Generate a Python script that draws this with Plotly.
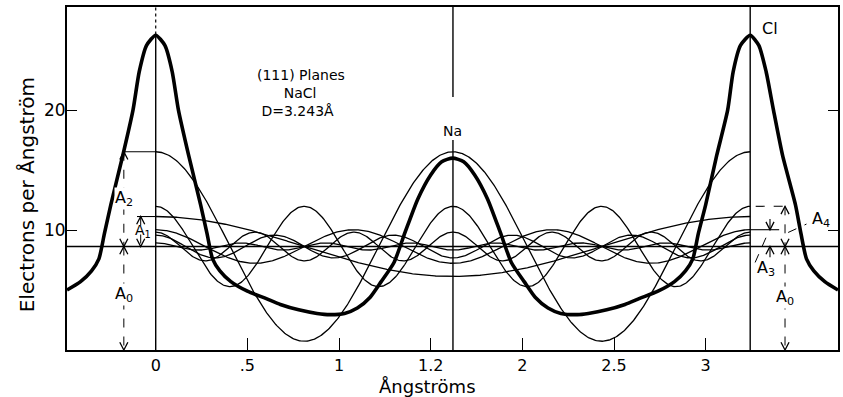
import numpy as np
import plotly.graph_objects as go

# ---- data -----------------------------------------------------------------
D = 3.243                      # (111) plane spacing of NaCl, Å
A0 = 8.63                      # mean electron density (horizontal line)
orders = [1, 2, 3, 4, 5, 6, 7]                       # Fourier orders
amplitudes = [2.5, 7.9, 1.4, 3.35, 0.95, 1.2, 0.3]   # A1 ... A7

# summed electron distribution (thick curve), read point by point
total_x = [-0.484, -0.41, -0.35, -0.31, -0.28, -0.245, -0.18, -0.124, -0.09, -0.05, 0.0,
           0.05, 0.09, 0.124, 0.18, 0.245, 0.28, 0.31, 0.35, 0.41, 0.50, 0.60, 0.68,
           0.78, 0.88, 0.95, 1.03, 1.10, 1.17, 1.23, 1.30, 1.36, 1.43, 1.50, 1.56, 1.62,
           1.68, 1.74, 1.81, 1.88, 1.94, 2.01, 2.07, 2.14, 2.21, 2.30, 2.36, 2.46, 2.56,
           2.64, 2.74, 2.83, 2.89, 2.93, 2.96, 3.00, 3.06, 3.12, 3.15, 3.19, 3.243,
           3.29, 3.33, 3.37, 3.42, 3.49, 3.52, 3.55, 3.59, 3.65, 3.722]
total_y = [5.0, 5.7, 6.6, 7.6, 9.7, 12.1, 16.2, 20.0, 23.2, 25.4, 26.25,
           25.4, 23.2, 20.0, 16.2, 12.1, 9.7, 7.6, 6.6, 5.7, 4.9, 4.3, 3.8,
           3.35, 3.05, 2.95, 3.05, 3.5, 4.4, 5.7, 7.3, 9.8, 12.6, 14.6, 15.7, 16.0,
           15.7, 14.6, 12.6, 9.8, 7.3, 5.7, 4.4, 3.5, 3.05, 2.95, 3.05, 3.35, 3.8,
           4.3, 4.9, 5.7, 6.6, 7.6, 9.7, 12.1, 16.2, 20.0, 23.2, 25.4, 26.25,
           25.4, 23.2, 20.0, 16.2, 12.1, 9.7, 7.6, 6.6, 5.7, 5.0]

x_tickvals = [0, 0.5, 1, 1.5, 2, 2.5, 3]
x_ticktext = ["0", ".5", "1", "1.2", "2", "2.5", "3"]
y_tickvals = [10, 20]
y_ticktext = ["10", "20"]

X_RANGE = [-0.484, 3.722]
Y_RANGE = [0, 28.6]

FONT = "DejaVu Sans"

fig = go.Figure()

# individual Fourier terms, drawn between the Cl planes
x_in = np.linspace(0, D, 600)
for n, a in zip(orders, amplitudes):
    fig.add_trace(go.Scatter(
        x=x_in, y=A0 + a * np.cos(2 * np.pi * n * x_in / D),
        mode="lines", line=dict(color="black", width=1.3),
        showlegend=False, hoverinfo="skip"))

fig.add_trace(go.Scatter(x=total_x, y=total_y, mode="lines",
                         line=dict(color="black", width=3.6, shape="spline", smoothing=0.6),
                         showlegend=False, hoverinfo="skip"))

amp = dict(zip(orders, amplitudes))
shapes = []
annotations = []

HW = 0.022   # half width of an arrowhead (Å)
HH = 0.65    # height of an arrowhead (electrons/Å)


def line(x0, y0, x1, y1, width=1.2, dash="solid"):
    shapes.append(dict(type="line", xref="x", yref="y", x0=x0, y0=y0, x1=x1, y1=y1,
                       line=dict(color="black", width=width, dash=dash)))


def head(x, y, up, stem=0.0):
    s = -HH if up else HH
    shapes.append(dict(type="path", xref="x", yref="y",
                       path=f"M {x - HW},{y + s} L {x},{y} L {x + HW},{y + s}",
                       line=dict(color="black", width=1.3)))
    if stem:
        line(x, y, x, y + (-stem if up else stem), width=1.1)


def label(x, y, text, size=16, bg=None):
    d = dict(x=x, y=y, xref="x", yref="y", text=text, showarrow=False,
             font=dict(family=FONT, size=size, color="black"))
    if bg:
        d["bgcolor"] = bg
        d["borderpad"] = 0
    annotations.append(d)


# reference lines
line(X_RANGE[0], A0, X_RANGE[1], A0, width=1.5)
line(0, 0, 0, 26.3, width=1.4)
line(0, 26.3, 0, Y_RANGE[1], width=1.2, dash="dot")
line(D / 2, 0, D / 2, 17.5, width=1.4)
line(D / 2, 21.1, D / 2, Y_RANGE[1], width=1.4)
line(D, 0, D, Y_RANGE[1], width=1.4)

# left side: A2, A1, A0
xa2 = -0.174
xa1 = -0.082
line(xa2 - 0.01, A0 + amp[2], 0, A0 + amp[2], width=1.1)
line(xa2, A0 + amp[2], xa2, A0, width=1, dash="dash")
head(xa2, A0 + amp[2], True)
head(xa2, A0, False)
label(xa2, 12.6, "A<sub>2</sub>", bg="white")
line(xa2, A0, xa2, 0, width=1, dash="dash")
head(xa2, A0, True)
head(xa2, 0, False)
label(xa2, 4.6, "A<sub>0</sub>", bg="white")
line(xa1 - 0.02, A0 + amp[1], 0, A0 + amp[1], width=1.1)
line(xa1, A0 + amp[1], xa1, A0, width=1, dash="dash")
head(xa1, A0 + amp[1], True)
head(xa1, A0, False)
label(xa1 + 0.01, 9.9, "A<sub>1</sub>", size=14)

# right side: A4, A3, A0
xa4 = 3.433
xa3 = 3.351
line(D + 0.03, A0 + amp[4], xa4 + 0.03, A0 + amp[4], width=1.1, dash="dash")
line(xa4, A0 + amp[4], xa4, A0, width=1, dash="dash")
head(xa4, A0 + amp[4], True)
head(xa4, A0, False)
line(3.45, 9.8, 3.55, 10.5, width=1, dash="dash")
label(3.63, 10.9, "A<sub>4</sub>")
line(D, A0 + amp[3], xa3 + 0.05, A0 + amp[3], width=1.1)
head(xa3, A0 + amp[3], False, stem=0.9)
head(xa3, A0, True, stem=0.9)
line(3.27, 7.3, 3.33, 9.4, width=1, dash="dash")
label(3.33, 6.8, "A<sub>3</sub>")
line(xa4, A0, xa4, 0, width=1, dash="dash")
head(xa4, A0, True)
head(xa4, 0, False)
label(xa4, 4.4, "A<sub>0</sub>", bg="white")

# atom labels and legend text
label(D / 2, 18.3, "Na", size=14)
label(3.351, 26.8, "Cl", size=16)
annotations.append(dict(x=0.539, y=21.45, xref="x", yref="y", xanchor="left",
                        yanchor="middle", align="left",
                        text="(111) Planes<br>" + "&nbsp;" * 6 + "NaCl<br>&nbsp;D=3.243Å",
                        showarrow=False,
                        font=dict(family=FONT, size=14, color="black")))

# axis titles
annotations.append(dict(x=1.485, y=0, xref="x", yref="y", yanchor="middle", yshift=-36,
                        text="Ångströms", showarrow=False,
                        font=dict(family=FONT, size=18, color="black")))
annotations.append(dict(x=0, y=12.9, xref="paper", yref="y", xanchor="center",
                        yanchor="middle", xshift=-40, textangle=-90,
                        text="Electrons per Ångström", showarrow=False,
                        font=dict(family=FONT, size=20, color="black")))

fig.update_layout(
    width=843, height=397,
    margin=dict(l=67, r=3, t=7, b=47),
    paper_bgcolor="white", plot_bgcolor="white",
    shapes=shapes, annotations=annotations,
    font=dict(family=FONT, color="black"),
)
fig.update_xaxes(range=X_RANGE, tickvals=x_tickvals, ticktext=x_ticktext,
                 ticks="inside", ticklen=12, tickwidth=1.4, tickcolor="black",
                 showline=True, linewidth=2, linecolor="black", mirror=True,
                 showgrid=False, zeroline=False, tickfont=dict(size=16, family=FONT))
fig.update_yaxes(range=Y_RANGE, tickvals=y_tickvals, ticktext=y_ticktext,
                 ticks="inside", ticklen=10, tickwidth=1.4, tickcolor="black",
                 ticklabelstandoff=-4,
                 showline=True, linewidth=2, linecolor="black", mirror="ticks",
                 showgrid=False, zeroline=False, tickfont=dict(size=17, family=FONT))

fig.write_html("out.html", config={"displayModeBar": False},
               post_script="document.body.style.margin='0';")
